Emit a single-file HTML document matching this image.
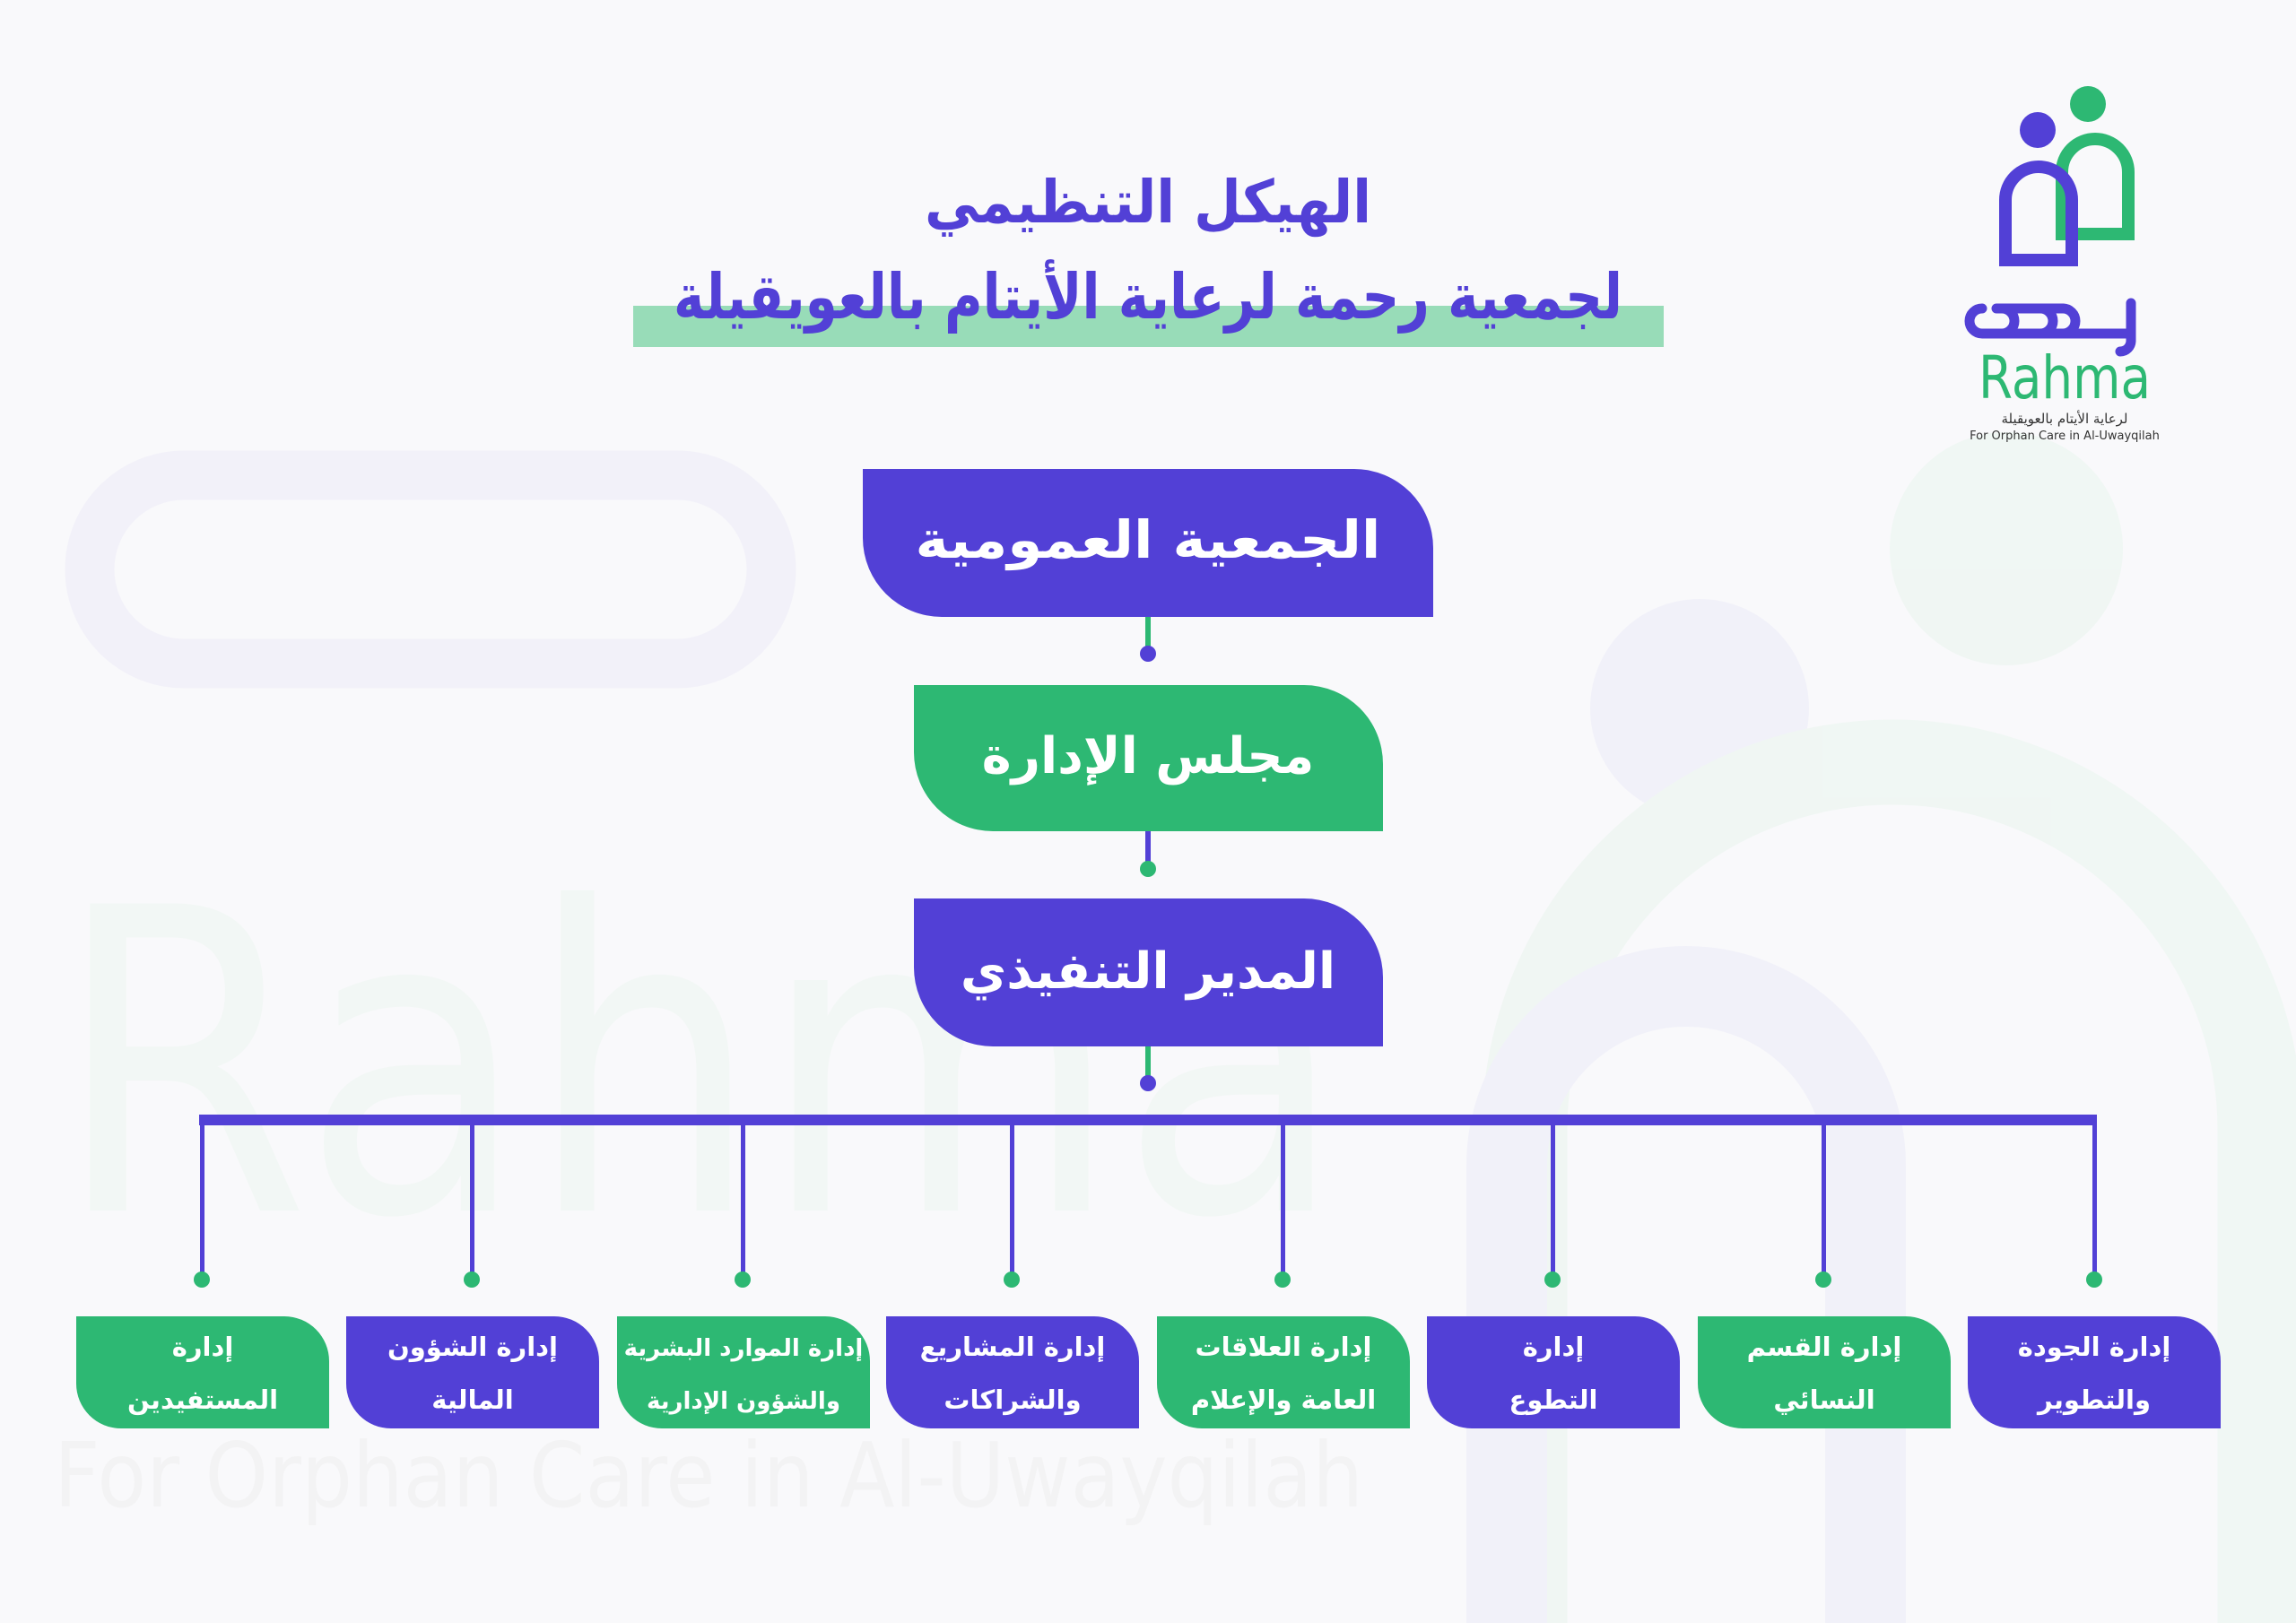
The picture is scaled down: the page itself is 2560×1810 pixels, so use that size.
<!DOCTYPE html>
<html><head><meta charset="utf-8">
<style>
html,body{margin:0;padding:0;background:#f9f9fb;}
svg{display:block;}
text{font-family:"DejaVu Sans","Liberation Sans",sans-serif;}
</style></head>
<body>
<svg width="2560" height="1810" viewBox="0 0 2560 1810" xmlns="http://www.w3.org/2000/svg">
<rect width="2560" height="1810" fill="#f9f9fb"/>
<!-- faint watermark -->
<g opacity="0.55">
<rect x="100" y="530" width="760" height="210" rx="105" fill="none" stroke="#ecebf8" stroke-width="55"/>
<circle cx="1895" cy="790" r="122" fill="#ecebf8"/>
<circle cx="2237" cy="612" r="130" fill="#e9f5ee"/>
<path d="M1700 1810 V1260 a410 410 0 0 1 820 0 V1810" fill="none" stroke="#e9f5ee" stroke-width="95"/>
<path d="M1680 1810 V1300 a200 200 0 0 1 400 0 V1810" fill="none" stroke="#ecebf8" stroke-width="90"/>
<text x="60" y="1350" font-size="470" fill="#eef6f1" font-family="Liberation Sans,sans-serif" textLength="1440" lengthAdjust="spacingAndGlyphs">Rahma</text>
<text x="60" y="1680" font-size="100" fill="#efefef" font-family="Liberation Sans,sans-serif" textLength="1460" lengthAdjust="spacingAndGlyphs">For Orphan Care in Al-Uwayqilah</text>
</g>
<!-- title -->
<rect x="706" y="341" width="1149" height="46" fill="#98dcb8"/>
<text x="1280" y="248" font-size="66" font-weight="bold" fill="#5240d6" text-anchor="middle" direction="rtl" textLength="498" lengthAdjust="spacingAndGlyphs">الهيكل التنظيمي</text>
<text x="1280" y="355" font-size="70" font-weight="bold" fill="#5240d6" text-anchor="middle" direction="rtl" textLength="1058" lengthAdjust="spacingAndGlyphs">لجمعية رحمة لرعاية الأيتام بالعويقيلة</text>
<!-- main boxes -->
<path d="M962 523 H1510 a88 88 0 0 1 88 88 V688 H1050 a88 88 0 0 1 -88 -88 Z" fill="#5240d6"/>
<text x="1280" y="622" font-size="58" font-weight="bold" fill="#fff" text-anchor="middle" direction="rtl" textLength="519" lengthAdjust="spacingAndGlyphs">الجمعية العمومية</text>
<rect x="1277" y="688" width="6" height="40" fill="#2db873"/>
<circle cx="1280" cy="729" r="9" fill="#5240d6"/>
<path d="M1019 764 H1454 a88 88 0 0 1 88 88 V927 H1107 a88 88 0 0 1 -88 -88 Z" fill="#2db873"/>
<text x="1280" y="862" font-size="56" font-weight="bold" fill="#fff" text-anchor="middle" direction="rtl">مجلس الإدارة</text>
<rect x="1277" y="927" width="6" height="42" fill="#5240d6"/>
<circle cx="1280" cy="969" r="9" fill="#2db873"/>
<path d="M1019 1002 H1454 a88 88 0 0 1 88 88 V1167 H1107 a88 88 0 0 1 -88 -88 Z" fill="#5240d6"/>
<text x="1280" y="1102" font-size="56" font-weight="bold" fill="#fff" text-anchor="middle" direction="rtl">المدير التنفيذي</text>
<rect x="1277" y="1167" width="6" height="40" fill="#2db873"/>
<circle cx="1280" cy="1208" r="9" fill="#5240d6"/>
<!-- bus -->
<rect x="222" y="1243" width="2116" height="12" fill="#5240d6"/>
<g fill="#5240d6">
<rect x="223" y="1250" width="5" height="175"/><rect x="524" y="1250" width="5" height="175"/>
<rect x="826" y="1250" width="5" height="175"/><rect x="1126" y="1250" width="5" height="175"/>
<rect x="1428" y="1250" width="5" height="175"/><rect x="1729" y="1250" width="5" height="175"/>
<rect x="2031" y="1250" width="5" height="175"/><rect x="2333" y="1250" width="5" height="175"/>
</g>
<g fill="#2db873">
<circle cx="225" cy="1427" r="9"/><circle cx="526" cy="1427" r="9"/><circle cx="828" cy="1427" r="9"/><circle cx="1128" cy="1427" r="9"/>
<circle cx="1430" cy="1427" r="9"/><circle cx="1731" cy="1427" r="9"/><circle cx="2033" cy="1427" r="9"/><circle cx="2335" cy="1427" r="9"/>
</g>
<!-- bottom boxes -->
<g font-size="29" font-weight="bold" fill="#fff" text-anchor="middle" direction="rtl">
<path d="M85 1468 H317 a50 50 0 0 1 50 50 V1593 H135 a50 50 0 0 1 -50 -50 Z" fill="#2db873"/>
<text x="226" y="1512">إدارة</text><text x="226" y="1571">المستفيدين</text>
<path d="M386 1468 H618 a50 50 0 0 1 50 50 V1593 H436 a50 50 0 0 1 -50 -50 Z" fill="#5240d6"/>
<text x="527" y="1512">إدارة الشؤون</text><text x="527" y="1571">المالية</text>
<path d="M688 1468 H920 a50 50 0 0 1 50 50 V1593 H738 a50 50 0 0 1 -50 -50 Z" fill="#2db873"/>
<text x="829" y="1512" font-size="26">إدارة الموارد البشرية</text><text x="829" y="1571" font-size="26">والشؤون الإدارية</text>
<path d="M988 1468 H1220 a50 50 0 0 1 50 50 V1593 H1038 a50 50 0 0 1 -50 -50 Z" fill="#5240d6"/>
<text x="1129" y="1512">إدارة المشاريع</text><text x="1129" y="1571">والشراكات</text>
<path d="M1290 1468 H1522 a50 50 0 0 1 50 50 V1593 H1340 a50 50 0 0 1 -50 -50 Z" fill="#2db873"/>
<text x="1431" y="1512">إدارة العلاقات</text><text x="1431" y="1571">العامة والإعلام</text>
<path d="M1591 1468 H1823 a50 50 0 0 1 50 50 V1593 H1641 a50 50 0 0 1 -50 -50 Z" fill="#5240d6"/>
<text x="1732" y="1512">إدارة</text><text x="1732" y="1571">التطوع</text>
<path d="M1893 1468 H2125 a50 50 0 0 1 50 50 V1593 H1943 a50 50 0 0 1 -50 -50 Z" fill="#2db873"/>
<text x="2034" y="1512">إدارة القسم</text><text x="2034" y="1571">النسائي</text>
<path d="M2194 1468 H2426 a50 50 0 0 1 50 50 V1593 H2244 a50 50 0 0 1 -50 -50 Z" fill="#5240d6"/>
<text x="2335" y="1512">إدارة الجودة</text><text x="2335" y="1571">والتطوير</text>
</g>
<!-- logo -->
<circle cx="2328" cy="116" r="20" fill="#2db873"/>
<path d="M2299 261 V192 a37 37 0 0 1 74 0 V261 Z" fill="none" stroke="#2db873" stroke-width="14"/>
<circle cx="2272" cy="145" r="20" fill="#5240d6"/>
<path d="M2236 290 V223 a37 37 0 0 1 74 0 V290 Z" fill="none" stroke="#5240d6" stroke-width="14"/>
<path d="M2210 344 a14 14 0 0 0 0 28 H2376 M2226 344 H2300 M2376 338 V380 a12 12 0 0 1 -12 12" fill="none" stroke="#5240d6" stroke-width="11" stroke-linecap="round"/>
<path d="M2232 344 a14 14 0 0 1 0 28 M2275 344 a14 14 0 0 1 0 28 M2300 344 a14 14 0 0 1 0 28" fill="none" stroke="#5240d6" stroke-width="11"/>
<text x="2302" y="444" font-size="66" fill="#2db873" text-anchor="middle" font-family="Liberation Sans,sans-serif" textLength="192" lengthAdjust="spacingAndGlyphs">Rahma</text>
<text x="2302" y="472" font-size="15" fill="#333" text-anchor="middle" direction="rtl">لرعاية الأيتام بالعويقيلة</text>
<text x="2302" y="490" font-size="13" fill="#333" text-anchor="middle" font-family="Liberation Sans,sans-serif">For Orphan Care in Al-Uwayqilah</text>
</svg>
</body></html>
